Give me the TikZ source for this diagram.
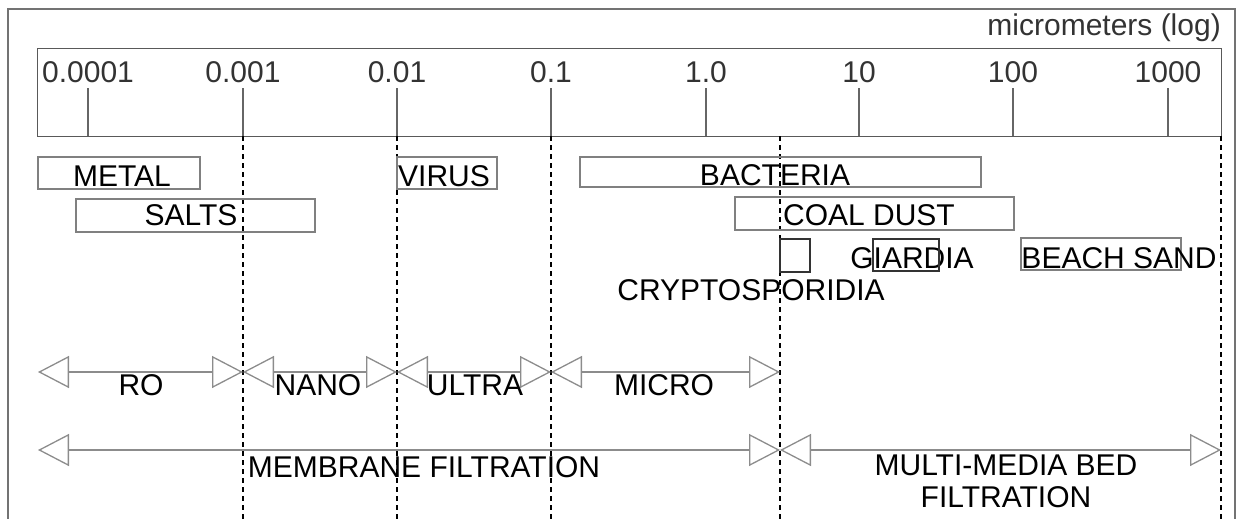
\documentclass[tikz,border=0pt]{standalone}
\usepackage{fontspec}
\setmainfont{Liberation Sans}
\usetikzlibrary{arrows.meta}
\begin{document}
\begin{tikzpicture}[x=1pt,y=-1pt,
  lbl/.style={font=\fontsize{30}{32}\selectfont, text=black, inner sep=0pt},
  gbox/.style={draw=black!50, line width=1.3pt},
  tick/.style={draw=black!60, line width=1.3pt},
  guide/.style={draw=black, line width=1.4pt, dash pattern=on 5pt off 4pt},
  rng/.style={draw=black!45, line width=1.3pt,
    {Triangle[open,length=31pt,width=32pt]}-{Triangle[open,length=31pt,width=32pt]}},
]
\useasboundingbox (0,0) rectangle (1237,519);
% outer frame
\draw[black!55, line width=1.2pt] (8,519) -- (8,9) -- (1235,9) -- (1235,519);
% ruler
\node[gbox, draw=black!65, anchor=north west, minimum width=1184pt, minimum height=88pt, inner sep=0pt] (ruler) at (37,48) {};
\node[lbl, anchor=base east, text=black!80] (unit) at (1221,36) {micrometers (log)};
\foreach \x/\l/\n in {88/0.0001/a,243/0.001/b,397/0.01/c,551/0.1/d,706/1.0/e,859/10/f,1013/100/g,1168/1000/h}{
  \draw[tick] (\x,88) -- (\x,136);
  \node[lbl, anchor=base, text=black!80] (t\n) at (\x,83) {\l};
}
% dashed guides
\foreach \x/\n in {243/b,397/c,551/d,780/m,1221/r}{
  \coordinate (g\n top) at (\x,136);
  \coordinate (g\n bot) at (\x,519);
  \draw[guide] (g\n top) -- (g\n bot);
}
% particle boxes
\draw[gbox] (38,157) rectangle (200,189);
\node[lbl, anchor=base] (metal) at (122,186) {METAL};
\draw[gbox] (76,199) rectangle (315,232);
\node[lbl, anchor=base] (salts) at (191,225) {SALTS};
\draw[gbox] (397,157) rectangle (497,189);
\node[lbl, anchor=base] (virus) at (444,186) {VIRUS};
\draw[gbox] (580,157) rectangle (981,187);
\node[lbl, anchor=base] (bact) at (775,185) {BACTERIA};
\draw[gbox] (735,197) rectangle (1014,230);
\node[lbl, anchor=base] (coal) at (869,225) {COAL DUST};
\draw[gbox, draw=black!80] (780,239) rectangle (810,272);
\node[lbl, anchor=base] (crypto) at (751,300) {CRYPTOSPORIDIA};
\node[lbl, anchor=base] (giardia) at (912,268) {GIARDIA};
\draw[gbox, draw=black!80] (873,239) rectangle (939,271);
\draw[gbox] (1021,238) rectangle (1181,270);
\node[lbl, anchor=base] (sand) at (1119,268) {BEACH SAND};
% filtration ranges
\coordinate (r0) at (38,372);
\coordinate (r1) at (243,372);
\coordinate (r2) at (397,372);
\coordinate (r3) at (551,372);
\coordinate (r4) at (780,372);
\draw[rng] (r0) -- (r1);
\draw[rng] (r1) -- (r2);
\draw[rng] (r2) -- (r3);
\draw[rng] (r3) -- (r4);
\node[lbl, anchor=base] (ro) at (141,395) {RO};
\node[lbl, anchor=base] (nano) at (318,395) {NANO};
\node[lbl, anchor=base] (ultra) at (475,395) {ULTRA};
\node[lbl, anchor=base] (micro) at (664,395) {MICRO};
\coordinate (m0) at (38,450);
\coordinate (m1) at (780,450);
\coordinate (m2) at (1221,450);
\draw[rng] (m0) -- (m1);
\draw[rng] (m1) -- (m2);
\node[lbl, anchor=base] (memb) at (424,477) {MEMBRANE FILTRATION};
\node[lbl, anchor=base] (mmb1) at (1006,475) {MULTI-MEDIA BED};
\node[lbl, anchor=base] (mmb2) at (1006,507) {FILTRATION};
\end{tikzpicture}
\end{document}
